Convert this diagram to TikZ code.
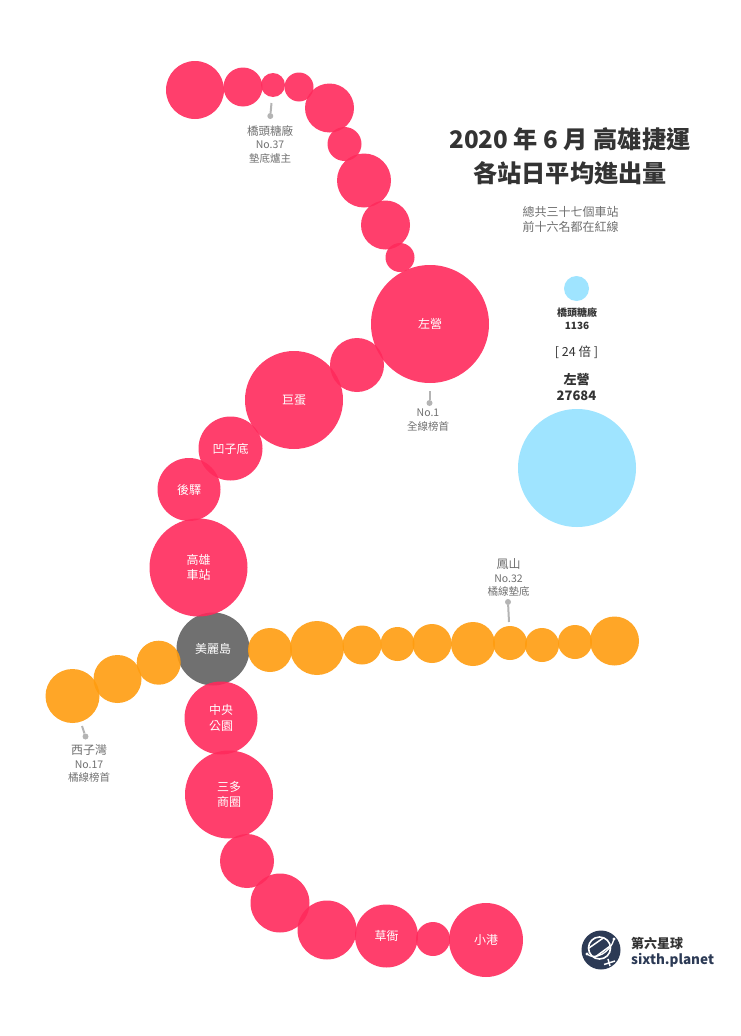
\documentclass[tikz,border=0pt]{standalone}
\usepackage{fontspec}
\setmainfont{Noto Sans CJK TC}
\definecolor{redst}{HTML}{FF2A5C}
\definecolor{orst}{HTML}{FF9C0F}
\definecolor{grayst}{HTML}{606060}
\definecolor{bluest}{HTML}{9FE4FF}
\definecolor{ttl}{HTML}{333333}
\definecolor{sub}{HTML}{6F6F6F}
\definecolor{pinc}{HTML}{B4B4B4}
\definecolor{logoc}{HTML}{2C3A55}
\tikzset{
  x=1pt,y=-1pt,
  st/.style 2 args={circle,inner sep=0pt,minimum size=2*#2 pt,align=center,text=white,font=\fontsize{12}{15.5}\selectfont,fill=#1,fill opacity=.9,text opacity=1},
  rd/.style={st={redst}{#1}},
  og/.style={st={orst}{#1}},
  gy/.style={st={grayst}{#1}},
  bl/.style={circle,inner sep=0pt,minimum size=2*#1 pt,fill=bluest},
  lab/.style={align=center,text=sub,font=\fontsize{10.5}{13.5}\selectfont,inner sep=0pt},
  pin/.style={draw=pinc,line width=2pt},
  pindot/.style={circle,fill=pinc,inner sep=0pt,minimum size=6pt},
  ttlst/.style={align=center,text=ttl,font=\fontsize{24.2}{34}\selectfont\bfseries,inner sep=0pt},
  cmp/.style={align=center,text=ttl,inner sep=0pt},
}
\begin{document}
\begin{tikzpicture}
\useasboundingbox (0,0) rectangle (740,1036);
% interchange
\node[gy=36.5] (ml) at (213,649) {};
% red line
\node[rd=29] (r1) at (195,90) {};
\node[rd=19.5] (r2) at (243,87) {};
\node[rd=12] (r3) at (273,85) {};
\node[rd=14.5] (r4) at (299,87) {};
\node[rd=24.5] (r5) at (329.5,108) {};
\node[rd=17] (r6) at (344.5,144) {};
\node[rd=27] (r7) at (364,180.5) {};
\node[rd=24.5] (r8) at (385.5,225) {};
\node[rd=14.5] (r9) at (400,257.5) {};
\node[rd=59] (zy) at (430,324) {左營};
\node[rd=27] (r10) at (357,365) {};
\node[rd=49] (jd) at (294,400) {巨蛋};
\node[rd=32] (az) at (230.5,448.5) {凹子底};
\node[rd=31.5] (hy) at (189,489.5) {後驛};
\node[rd=49] (gx) at (198.5,567.5) {高雄\\車站};
% orange line
\node[og=27] (o1) at (72.5,696) {};
\node[og=24] (o2) at (117.5,679) {};
\node[og=22] (o3) at (158.7,662.7) {};
\node[og=22] (o4) at (270,650) {};
\node[og=27] (o5) at (317,648) {};
\node[og=19.5] (o6) at (362,645) {};
\node[og=17] (o7) at (397.5,644) {};
\node[og=19.5] (o8) at (432,643.5) {};
\node[og=22] (o9) at (473,644) {};
\node[og=17] (o10) at (510,643) {};
\node[og=17] (o11) at (542,645) {};
\node[og=17] (o12) at (575,642) {};
\node[og=24.5] (o13) at (614.5,641) {};
% south
\node[rd=36.5] (zy2) at (221,718) {中央\\公園};
\node[rd=44] (sd) at (229,794.5) {三多\\商圈};
\node[rd=27] (r11) at (247,861) {};
\node[rd=29.5] (r12) at (280,903) {};
\node[rd=29.5] (r13) at (327,930) {};
\node[rd=31.5] (cy) at (386.5,936) {草衙};
\node[rd=17] (r14) at (433,939) {};
\node[rd=37] (xg) at (486,940) {小港};
\node[text=white,font=\fontsize{12}{15.5}\selectfont,inner sep=0pt] (mlt) at (ml.center) {美麗島};
% callouts
\coordinate (p1a) at (271.5,103);
\node[pindot] (p1b) at (270.3,116) {};
\draw[pin] (p1a) -- (p1b);
\node[lab] (l1) at (270,144) {\fontsize{11.5}{14}\selectfont 橋頭糖廠\\No.37\\墊底爐主};
\coordinate (p2a) at (429.5,391);
\node[pindot] (p2b) at (429.5,403) {};
\draw[pin] (p2a) -- (p2b);
\node[lab] (l2) at (428,420) {No.1\\全線榜首};
\coordinate (p3a) at (509,622);
\node[pindot] (p3b) at (508,602) {};
\draw[pin] (p3a) -- (p3b);
\node[lab] (l3) at (508.5,577.5) {\fontsize{12}{14}\selectfont 鳳山\\No.32\\橘線墊底};
\coordinate (p4a) at (82,726);
\node[pindot] (p4b) at (85.5,736.5) {};
\draw[pin] (p4a) -- (p4b);
\node[lab] (l4) at (89,763.5) {\fontsize{12}{14}\selectfont 西子灣\\No.17\\橘線榜首};
% title
\node[ttlst] (t) at (570,156) {2020 年 6 月 高雄捷運\\各站日平均進出量};
\node[lab,font=\fontsize{12}{15.5}\selectfont] (s) at (570.5,219.5) {總共三十七個車站\\前十六名都在紅線};
% comparison
\node[bl=12.5] (b1) at (576.5,288.5) {};
\node[cmp,font=\fontsize{10}{13}\selectfont\bfseries] (c1) at (577,319) {橋頭糖廠\\1136};
\node[cmp,font=\fontsize{12.5}{14}\selectfont] (c2) at (576.5,352.5) {[ 24 倍 ]};
\node[cmp,font=\fontsize{13}{16.5}\selectfont\bfseries] (c3) at (576.5,387) {左營\\27684};
\node[bl=59] (b2) at (577,468) {};
% logo
\node[circle,fill=logoc,minimum size=39pt,inner sep=0pt] (lg) at (601,950) {};
\begin{scope}[shift={(lg.center)},white]
\begin{scope}[shift={(-1.5,-2)}]
\draw[line width=1.6pt] (0,0) circle (11);
\begin{scope}
\clip (0,0) circle (10.5);
\draw[line width=1.5pt] (-12,1) -- (8,-13);
\draw[line width=1.5pt] (-7,11) -- (12,-3);
\end{scope}
\end{scope}
\draw[line width=1.3pt] (-14,4) .. controls (-6,11) and (10,2) .. (13,-11);
\fill (13,-11) circle (1.6);
\fill (-14,4) circle (1.6);
\draw[line width=1.5pt] (7,9) -- (9,16);
\draw[line width=1.5pt] (3,14.5) -- (14,11);
\end{scope}
\node[anchor=west,inner sep=0pt,text=ttl,font=\fontsize{13}{16}\selectfont\bfseries] (lt) at (631,943) {第六星球};
\node[anchor=west,inner sep=0pt,text=logoc,font=\fontsize{13.5}{16}\selectfont\bfseries] (lu) at (631,960) {sixth.planet};
\end{tikzpicture}
\end{document}
